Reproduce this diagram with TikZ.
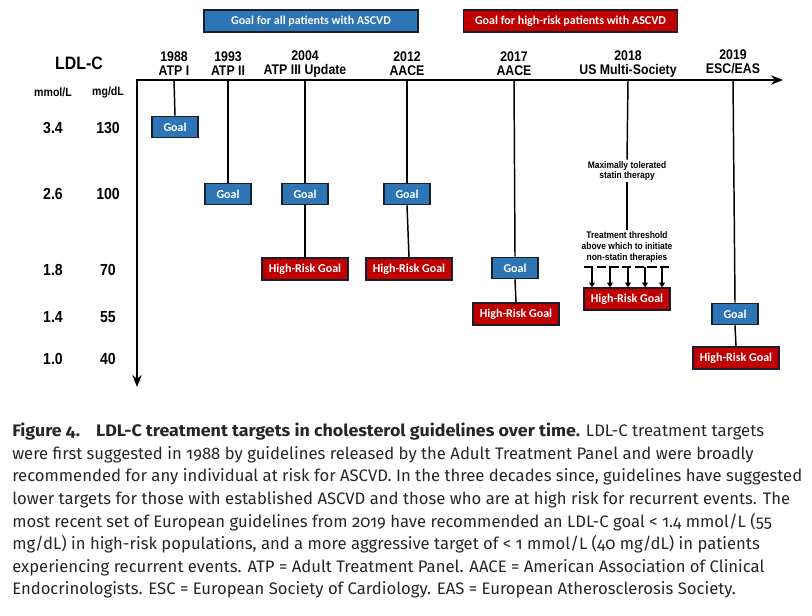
\documentclass[tikz,border=0pt]{standalone}
\usepackage{fontspec}
\newfontfamily\lblfont[FakeStretch=0.88]{Liberation Sans}
\newfontfamily\boxfont{Carlito}
\newfontfamily\capfont[Numbers=OldStyle,BoldFeatures={FakeStretch=1.07}]{Fira Sans}
\usetikzlibrary{arrows.meta}
\definecolor{goalblue}{RGB}{46,117,182}
\definecolor{hrred}{RGB}{192,0,0}
\definecolor{boxline}{RGB}{25,30,45}
\begin{document}
\begin{tikzpicture}[x=0.75pt,y=-0.75pt,
    goalbox/.style = {draw=boxline, line width=1.1pt, fill=goalblue, text=white,
        font=\boxfont\bfseries\fontsize{9}{10}\selectfont,
        minimum width=34.5pt, minimum height=15.8pt, inner sep=0pt},
    hrbox/.style = {goalbox, fill=hrred, minimum width=64.5pt, minimum height=16.5pt},
    legendbox/.style = {goalbox, minimum width=160.5pt, minimum height=16.5pt},
    yearlbl/.style = {align=center, inner sep=0pt, font=\lblfont\bfseries\fontsize{10.5}{10.5}\selectfont},
    unitlbl/.style = {font=\lblfont\bfseries\fontsize{9}{10}\selectfont},
    vallbl/.style = {font=\lblfont\bfseries\fontsize{12}{12}\selectfont},
    notelbl/.style = {align=center, inner sep=1pt, font=\lblfont\bfseries\fontsize{7.2}{8}\selectfont},
    axis/.style = {line width=1.6pt},
    tick/.style = {line width=1.1pt},
    arrow/.style = {line width=1.1pt, -{Triangle[width=4.5pt,length=3.5pt]}}]
    \useasboundingbox (0,0) rectangle (812,615);

    % Legend
    \node[legendbox] (lgoal) at (311,21) {Goal for all patients with ASCVD};
    \node[legendbox, fill=hrred] (lhigh) at (570.5,21) {Goal for high-risk patients with ASCVD};

    % Axes
    \node[font=\lblfont\bfseries\fontsize{13.5}{14}\selectfont] (ldl) at (79,63) {LDL-C};
    \node[unitlbl] (mmol) at (53,92) {mmol/L};
    \node[unitlbl] (mgdl) at (108,92) {mg/dL};

    \node[vallbl] (v34) at (53,128) {3.4};   \node[vallbl] (v130) at (108,128) {130};
    \node[vallbl] (v26) at (53,194) {2.6};   \node[vallbl] (v100) at (108,194) {100};
    \node[vallbl] (v18) at (53,270) {1.8};   \node[vallbl] (v70) at (108,270) {70};
    \node[vallbl] (v14) at (53,317) {1.4};   \node[vallbl] (v55) at (108,317) {55};
    \node[vallbl] (v10) at (53,359) {1.0};   \node[vallbl] (v40) at (108,359) {40};

    \coordinate (origin) at (137,80);
    \coordinate (xend) at (783,80);
    \coordinate (yend) at (137,387);
    \draw[axis, {Stealth[length=9pt,width=7pt]}-{Stealth[length=9pt,width=7pt]}] (yend) -- (origin) -- (xend);

    % Guidelines
    \node[yearlbl] (y1988) at (174,64) {1988\\ATP I};
    \node[yearlbl] (y1993) at (228,64) {1993\\ATP II};
    \node[yearlbl] (y2004) at (305,64) {2004\\ATP III Update};
    \node[yearlbl] (y2012) at (407,64) {2012\\AACE};
    \node[yearlbl] (y2017) at (514,64) {2017\\AACE};
    \node[yearlbl] (y2018) at (628,64) {2018\\US Multi-Society};
    \node[yearlbl] (y2019) at (733,62) {2019\\ESC/EAS};

    \coordinate (t1988) at (174,80);
    \coordinate (t1993) at (228,80);
    \coordinate (t2004) at (305,80);
    \coordinate (t2012) at (407,80);
    \coordinate (t2017) at (514,80);
    \coordinate (t2018) at (628,80);
    \coordinate (t2019) at (733,80);

    % Goals
    \node[goalbox] (g1988) at (175,127) {Goal};
    \node[goalbox] (g1993) at (228,194) {Goal};
    \node[goalbox] (g2004) at (305,194) {Goal};
    \node[hrbox]   (h2004) at (305,269) {High-Risk Goal};
    \node[goalbox] (g2012) at (407,194) {Goal};
    \node[hrbox]   (h2012) at (409,269) {High-Risk Goal};
    \node[goalbox] (g2017) at (515,268) {Goal};
    \node[hrbox]   (h2017) at (516,314) {High-Risk Goal};
    \node[hrbox]   (h2018) at (627,299) {High-Risk Goal};
    \node[goalbox] (g2019) at (735,314) {Goal};
    \node[hrbox]   (h2019) at (736,358) {High-Risk Goal};

    \draw[tick] (t1988) -- (g1988.north);
    \draw[tick] (t1993) -- (g1993.north);
    \draw[tick] (t2004) -- (g2004.north);
    \draw[tick] (g2004.south) -- (h2004.north);
    \draw[tick] (t2012) -- (g2012.north);
    \draw[tick] (g2012.south) -- (h2012.north);
    \draw[tick] (t2017) -- (g2017.north);
    \draw[tick] (g2017.south) -- (h2017.north);
    \draw[tick] (t2019) -- (g2019.north);
    \draw[tick] (g2019.south) -- (h2019.north);

    % 2018 thresholds
    \node[notelbl] (statin) at (627,171) {Maximally tolerated\\statin therapy};
    \node[notelbl] (thresh) at (627,247) {Treatment threshold\\above which to initiate\\non-statin therapies};
    \draw[tick] (t2018) -- (statin.north);
    \draw[tick] (statin.south) -- (thresh.north);
    \coordinate (dl) at (584,267);
    \coordinate (dr) at (669,267);
    \draw[tick, dash pattern=on 7pt off 2.5pt] (dl) -- (dr);
    \foreach \x in {592,610,628,645,662}
        \draw[arrow] (\x,267) -- (\x,0 |- h2018.north);

    % Caption
    \node[anchor=north west, align=left, inner sep=0pt, text=black!85,
        font=\capfont\fontsize{12.5}{16.95}\selectfont] (caption) at (12,423) {%
        {\bfseries Figure 4.\hspace{12pt}LDL-C treatment targets in cholesterol guidelines over time.} LDL-C treatment targets\\
        were first suggested in 1988 by guidelines released by the Adult Treatment Panel and were broadly\\
        recommended for any individual at risk for ASCVD. In the three decades since, guidelines have suggested\\
        lower targets for those with established ASCVD and those who are at high risk for recurrent events. The\\
        most recent set of European guidelines from 2019 have recommended an LDL-C goal < 1.4 mmol/L (55\\
        mg/dL) in high-risk populations, and a more aggressive target of < 1 mmol/L (40 mg/dL) in patients\\
        experiencing recurrent events. ATP = Adult Treatment Panel. AACE = American Association of Clinical\\
        Endocrinologists. ESC = European Society of Cardiology. EAS = European Atherosclerosis Society.};
\end{tikzpicture}
\end{document}
